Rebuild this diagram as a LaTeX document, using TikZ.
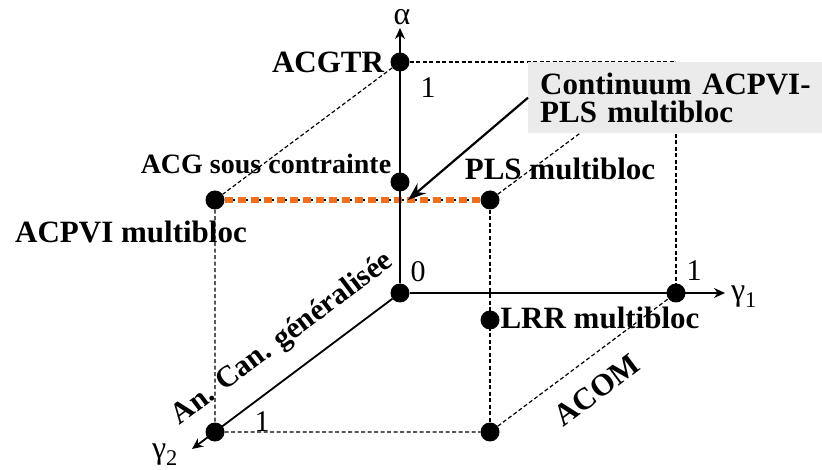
\documentclass[tikz,border=0pt]{standalone}
\usepackage{fontspec}
\setmainfont{Liberation Serif}
\usepackage{xcolor}
\usepackage{tikz}
\usetikzlibrary{arrows.meta}
\definecolor{mOrange}{HTML}{F0701E}
\definecolor{mBoxGray}{HTML}{EBEBEB}

\begin{document}
\begin{tikzpicture}[x=1pt, y=-1pt,
  dot/.style={circle, fill=black, inner sep=0pt, minimum size=19pt},
  hid/.style={black, line width=1.2pt, dash pattern=on 4pt off 2.5pt},
  axis/.style={black, line width=1.8pt, -{Stealth[length=11pt,width=10pt]}},
  lbl/.style={font=\fontsize{31}{28}\selectfont\bfseries, inner sep=0pt},
  num/.style={font=\fontsize{30}{30}\selectfont, inner sep=0pt}]
\useasboundingbox (0,0) rectangle (822,470);
% corners of the cube
\node[dot] (o) at (400,293) {};
\node[dot] (acgtr) at (400,62) {};
\node[dot] (acgsc) at (400,182) {};
\node[dot] (g1) at (676,293) {};
\node[dot] (g2) at (215,432) {};
\node[dot] (acpvi) at (215,200) {};
\node[dot] (pls) at (490,200) {};
\node[dot] (lrr) at (490,320) {};
\node[dot] (corner) at (490,432) {};
\coordinate (back) at (676,62);
\coordinate (atip) at (400,28);
\coordinate (g1tip) at (725,293);
\coordinate (g2tip) at (192,449);
\coordinate (ctip) at (408,200);
% hidden edges
\draw[hid] (acgtr) -- (back) -- (g1);
\draw[hid] (acgtr) -- (acpvi) -- (g2) -- (corner) -- (g1);
\draw[hid] (pls) -- (back);
\draw[hid] (pls) -- (corner);
\draw[hid] (acpvi) -- (pls);
\draw[mOrange, line width=6pt, dash pattern=on 8pt off 5pt] (acpvi) -- (pls);
% axes
\draw[axis] (o) -- (atip);
\draw[axis] (o) -- (g1tip);
\draw[axis] (o) -- (g2tip);
\node[num, font=\fontsize{32}{30}\selectfont] (alpha) at (402,17) {α};
\node[num, font=\fontsize{32}{30}\selectfont] (gam1) at (744,297) {γ\textsubscript{1}};
\node[num, font=\fontsize{32}{30}\selectfont] (gam2) at (165,455) {γ\textsubscript{2}};
\node[num] (zero) at (418,272) {0};
\node[num] (oneA) at (428,88) {1};
\node[num] (oneB) at (694,271) {1};
\node[num] (oneC) at (262,422) {1};
% labels
\node[lbl] (tacgtr) at (328,62) {ACGTR};
\node[lbl, font=\fontsize{28}{28}\selectfont\bfseries] (tacgsc) at (266,164) {ACG sous contrainte};
\node[lbl] (tacpvi) at (131,232) {ACPVI multibloc};
\node[lbl] (tpls) at (560,169) {PLS multibloc};
\node[lbl] (tlrr) at (600,318) {LRR multibloc};
\node[lbl, rotate=36.9] (tacom) at (597,390) {ACOM};
\node[lbl, font=\fontsize{30}{28}\selectfont\bfseries, rotate=36.9] (tacan) at (283,339) {An. Can. généralisée};
% callout
\node[lbl, fill=mBoxGray, anchor=north west, inner xsep=12pt, text width=285pt,
  minimum height=71pt, align=left] (box) at (528,62) {Continuum ACPVI-\\PLS multibloc};
\draw[black, line width=2.2pt, -{Stealth[length=18pt,width=13pt]}] (box.west) -- (ctip);
\end{tikzpicture}
\end{document}
